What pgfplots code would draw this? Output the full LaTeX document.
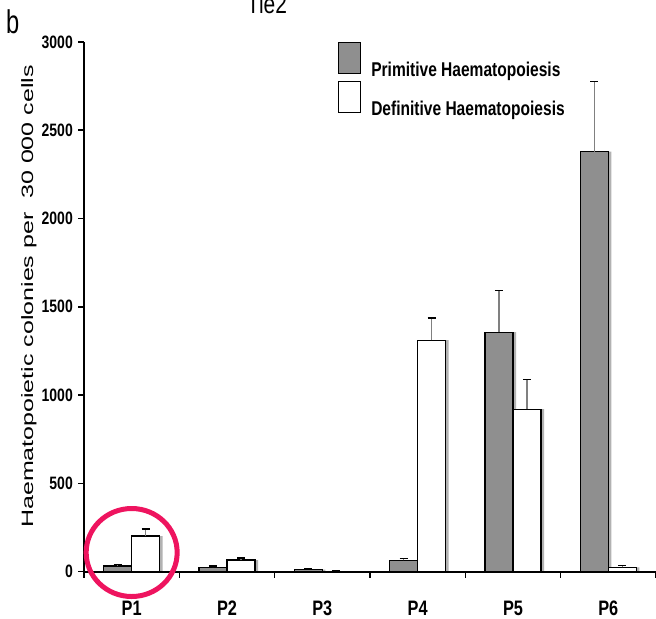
\documentclass[border=0pt]{standalone}
\usepackage{fontspec}
\setmainfont{Liberation Sans}
\newfontfamily\cond{Liberation Sans}[FakeStretch=0.78]
\newfontfamily\tall{Liberation Sans}[FakeStretch=1.52]
\newfontfamily\bfam{Liberation Sans}[FakeStretch=0.72]
\usepackage{pgfplots}
\pgfplotsset{compat=1.18}
\definecolor{barg}{RGB}{143,143,143}
\definecolor{ring}{RGB}{238,20,95}
\definecolor{shad}{RGB}{178,178,178}

\pgfplotstableread{
x  y     e
0  32    8
1  25    7
2  12    4
3  64    10
4  1356  235
5  2378  397
}\primitive
\pgfplotstableread{
x  y     e
0  202   40
1  66    13
2  3     0
3  1311  127
4  920   169
5  25    9
}\definitive

\pgfplotsset{
  frame/.style={
    at={(84bp,-571.7bp)}, anchor=south west,
    scale only axis, width=572bp, height=529.8bp,
    xmin=-0.5, xmax=5.5, ymin=0, ymax=3000,
    clip=false,
  }
}

\begin{document}
\begin{tikzpicture}
\path[use as bounding box] (0,0) rectangle (656bp,-619bp);
\node[anchor=base west, inner sep=0pt, font=\bfam\fontsize{33}{33}\selectfont] at (6bp,-33bp) {b};
\node[anchor=base, inner sep=0pt, font=\cond\fontsize{27}{27}\selectfont] at (267bp,-13bp) {Tie2};
\node[rotate=90, anchor=base, inner sep=0pt, font=\tall\fontsize{16.5}{16.5}\selectfont] at (33bp,-296.5bp) {Haematopoietic colonies per\ \ 30 000 cells};
% drop shadows of the bars
\begin{axis}[frame, hide axis]
\addplot[ybar, bar width=28bp, bar shift=-11bp, fill=shad, draw=none] table[x=x, y=y] {\primitive};
\addplot[ybar, bar width=28bp, bar shift=17bp, fill=shad, draw=none] table[x=x, y=y] {\definitive};
\end{axis}
\begin{axis}[
  frame,
  ybar=0pt, bar width=28bp,
  axis x line=bottom, axis y line=left,
  axis line style={-, line width=1.6bp, black},
  tick align=outside,
  major tick length=6bp,
  tick style={black, line width=1.5bp},
  ytick={0,500,...,3000},
  /pgf/number format/assume math mode=true,
  /pgf/number format/1000 sep={},
  scaled y ticks=false,
  yticklabel style={font=\cond\bfseries\fontsize{18}{18}\selectfont, inner sep=0pt, anchor=east, xshift=-5bp},
  xtick={-0.5,0.5,1.5,2.5,3.5,4.5,5.5},
  xticklabels={},
  extra x ticks={0,1,2,3,4,5},
  extra x tick labels={P1,P2,P3,P4,P5,P6},
  extra x tick style={major tick length=0pt, xticklabel style={font=\cond\bfseries\fontsize{21}{21}\selectfont, inner sep=0pt, anchor=base, yshift=-44bp}},
  legend style={draw=none, fill=none, at={(axis description cs:0.444,1.0)}, anchor=north west,
    inner sep=0pt, outer sep=0pt, row sep=3.5bp, column sep=10bp,
    font=\cond\bfseries\fontsize{20}{20}\selectfont,
    nodes={inner sep=0pt}},
  legend cell align=left,
]
\addplot[fill=barg, draw=black, line width=1.3bp,
  legend image code/.code={\draw[fill=barg, draw=black, line width=1.3bp] (0bp,-4bp) rectangle (22bp,27bp);},
  error bars/.cd, y dir=plus, y explicit,
  error bar style={line width=1.5bp, draw=black!50},
  error mark options={rotate=90, black, line width=1.5bp, mark size=4bp}]
  table[x=x, y=y, y error=e] {\primitive};
\addlegendentry{Primitive Haematopoiesis}
\addplot[fill=white, draw=black, line width=1.3bp,
  legend image code/.code={\draw[fill=white, draw=black, line width=1.3bp] (0bp,-4bp) rectangle (22bp,27bp);},
  error bars/.cd, y dir=plus, y explicit,
  error bar style={line width=1.5bp, draw=black!50},
  error mark options={rotate=90, black, line width=1.5bp, mark size=4bp}]
  table[x=x, y=y, y error=e] {\definitive};
\addlegendentry{Definitive Haematopoiesis}
\draw[ring, line width=5bp] (axis cs:0,108.7) ellipse [x radius=45.5bp, y radius=44bp];
\end{axis}
\end{tikzpicture}
\end{document}
